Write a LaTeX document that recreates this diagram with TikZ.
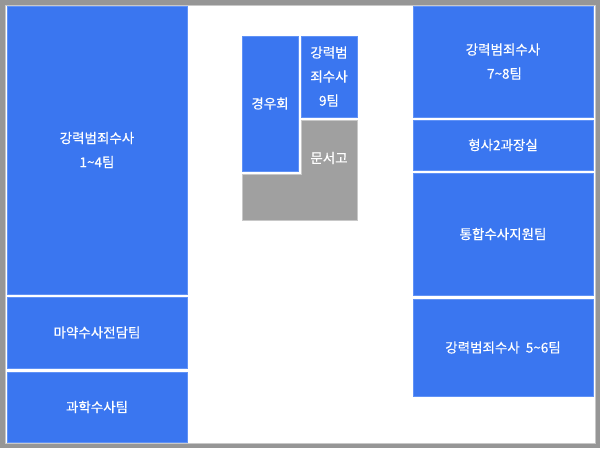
\documentclass[tikz,border=0pt]{standalone}
\usepackage{fontspec}
\newfontfamily\kr[FakeBold=0.4]{Noto Sans CJK KR}
\definecolor{roomblue}{RGB}{58,118,240}
\definecolor{roomedge}{RGB}{96,146,246}
\definecolor{storegray}{RGB}{160,160,160}
\definecolor{framegray}{RGB}{150,150,150}
\definecolor{frameinner}{RGB}{200,200,200}
\begin{document}
\begin{tikzpicture}[x=1pt, y=-1pt]
      \tikzset{room/.style={draw=roomedge, fill=roomblue, line width=0.8pt, inner sep=0pt, text=white, align=center, font=\kr\fontsize{13.5}{24}\selectfont}}
      \tikzset{label/.style={text=white, align=center, font=\kr\fontsize{13.5}{24}\selectfont}}
      \useasboundingbox (0,0) rectangle (600,448);
%% Frame
	\fill[white] (0,0) rectangle (600,448);
	\draw[framegray, line width=5pt] (2.5,2.5) rectangle (597.5,445.5);
	\draw[frameinner, line width=0.8pt] (5,5) rectangle (595,443);
%% Rooms
	%left
		\node[room, minimum width=180pt, minimum height=288pt] (crime14) at (97,150) {강력범죄수사\\1\textasciitilde4팀};
		\node[room, minimum width=180pt, minimum height=71pt] (drug) at (97,332.5) {마약수사전담팀};
		\node[room, minimum width=180pt, minimum height=70pt] (science) at (97,407) {과학수사팀};
	%middle
		\node[room, minimum width=56pt, minimum height=135pt] (veteran) at (270,103.5) {경우회};
		\node[room, minimum width=56pt, minimum height=81pt] (crime9) at (329,76.5) {강력범\\죄수사\\9팀};
		\fill[storegray, draw=frameinner, line width=0.6pt] (242,174) -- (301,174) -- (301,120) -- (357,120) -- (357,220) -- (242,220) -- cycle;
		\node[label] (archive) at (329,158) {문서고};
	%right
		\node[room, minimum width=180pt, minimum height=111pt] (crime78) at (503,61.5) {강력범죄수사\\\ 7\textasciitilde8팀};
		\node[room, minimum width=180pt, minimum height=50pt] (chief) at (503,145) {형사2과장실};
		\node[room, minimum width=180pt, minimum height=122pt] (support) at (503,234) {통합수사지원팀};
		\node[room, minimum width=180pt, minimum height=97pt] (crime56) at (503,347.5) {강력범죄수사\ \ 5\textasciitilde6팀};

\end{tikzpicture}
\end{document}
